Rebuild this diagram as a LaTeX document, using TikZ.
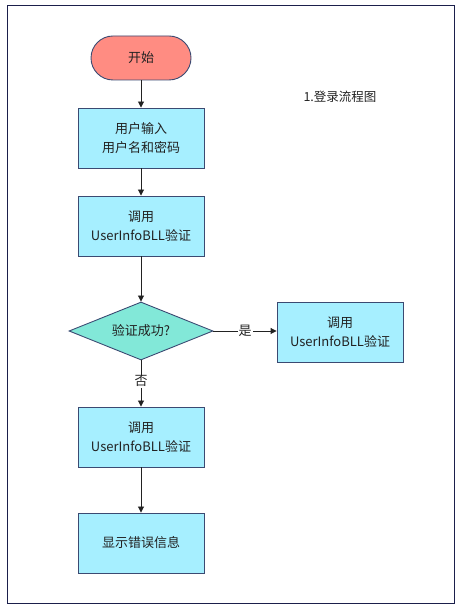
\documentclass[tikz,border=0pt]{standalone}
\usepackage{fontspec}
\setmainfont{Noto Sans CJK SC}
\usepackage{xcolor}
\usepackage{tikz}
\usetikzlibrary{positioning,arrows.meta,shapes.geometric,shapes.misc}
\definecolor{FlowNavy}{HTML}{1B1F4B}
\definecolor{FlowEdge}{HTML}{3B4A72}
\definecolor{FlowSalmon}{HTML}{FF8C82}
\definecolor{FlowCyan}{HTML}{A6EFFF}
\definecolor{FlowTeal}{HTML}{82E8D8}
\definecolor{FlowText}{HTML}{222222}

\begin{document}
\begin{tikzpicture}[x=1pt,y=1pt]
  \tikzset{
    flowframe/.style={
      draw=FlowNavy,
      line width=0.9pt
    },
    flowbox/.style={
      rectangle,
      draw=FlowEdge,
      line width=0.9pt,
      fill=FlowCyan,
      align=center,
      text=FlowText,
      minimum width=126pt,
      minimum height=60pt,
      inner sep=0pt,
      font=\fontsize{13}{18.5}\selectfont
    },
    flowstart/.style={flowbox,rounded rectangle,fill=FlowSalmon,
      minimum width=100pt,minimum height=44pt},
    flowcheck/.style={flowbox,diamond,aspect=2.5,fill=FlowTeal,
      minimum width=144pt,minimum height=58pt},
    flowarrow/.style={
      -{Triangle[length=6pt,width=6pt]},
      draw=FlowText,
      line width=0.9pt
    },
    flowlabel/.style={fill=white,inner sep=1pt,text=FlowText,
      font=\fontsize{13}{15}\selectfont},
    flowtitle/.style={text=FlowText,font=\fontsize{12.5}{15}\selectfont}
  }

  \useasboundingbox (0,0) rectangle (461,609);
  \draw[flowframe] (7.5,604) rectangle (454,6);

  % ------------------------------------------------------------------
  % Main path
  % ------------------------------------------------------------------
  \node[flowtitle] (title) at (340,512) {1.登录流程图};

  \node[flowstart] (start) at (141,551) {开始};
  \node[flowbox] (input) at (141,471) {用户输入\\用户名和密码};
  \node[flowbox] (callcheck) at (141,383) {调用\\UserInfoBLL验证};
  \node[flowcheck] (check) at (141,278) {验证成功?};
  \node[flowbox] (callok) at (340,277) {调用\\UserInfoBLL验证};
  \node[flowbox] (callfail) at (141,172) {调用\\UserInfoBLL验证};
  \node[flowbox] (showerr) at (141,66) {显示错误信息};

  \draw[flowarrow] (start.south) -- (input.north);
  \draw[flowarrow] (input.south) -- (callcheck.north);
  \draw[flowarrow] (callcheck.south) -- (check.north);
  \draw[flowarrow] (check.east) -- node[flowlabel] {是} (check.east -| callok.west);
  \draw[flowarrow] (check.south) -- node[flowlabel,pos=0.45] {否} (callfail.north);
  \draw[flowarrow] (callfail.south) -- (showerr.north);
\end{tikzpicture}
\end{document}
